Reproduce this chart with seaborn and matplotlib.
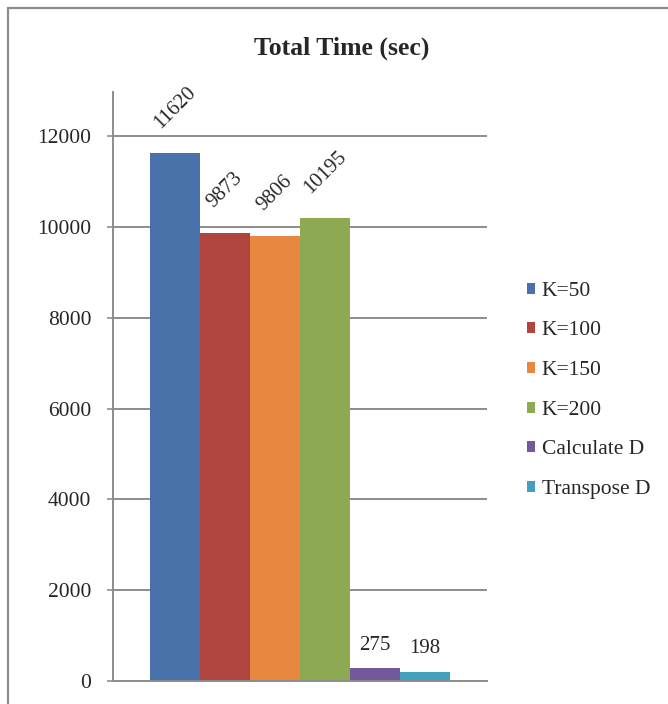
import matplotlib
matplotlib.use("Agg")
import matplotlib.pyplot as plt
from matplotlib.patches import Rectangle, Patch
import seaborn as sns
import pandas as pd

# Run-time totals for each configuration
series = ["K=50", "K=100", "K=150", "K=200", "Calculate D", "Transpose D"]
values = [11620, 9873, 9806, 10195, 275, 198]
colors = ["#4A72AA", "#B0453F", "#E8873F", "#8DAA52", "#72599E", "#40A0BE"]
y_ticks = [0, 2000, 4000, 6000, 8000, 10000, 12000]

df = pd.DataFrame({"group": ["Total"] * len(series), "series": series, "value": values})

sns.set_theme(style="white")
plt.rcParams["font.family"] = ["Liberation Serif", "DejaVu Serif"]

fig = plt.figure(figsize=(6.68, 7.04), dpi=100)
ax = fig.add_axes([0.1692, 0.0327, 0.5599, 0.8366])

sns.barplot(data=df, x="group", y="value", hue="series", hue_order=series,
            palette=colors, saturation=1, width=0.8, ax=ax, legend=False,
            edgecolor="none", linewidth=0)

ax.set_ylim(0, 12970)
ax.set_xlim(-0.5, 0.5)
ax.set_yticks(y_ticks)
ax.set_yticklabels([str(t) for t in y_ticks], fontsize=15.5)
ax.set_xticks([])
ax.set_xlabel("")
ax.set_ylabel("")

grid_color = "#8C8C8C"
for t in y_ticks[1:]:
    ax.axhline(t, color=grid_color, lw=1.4, zorder=0)
for s in ["top", "right"]:
    ax.spines[s].set_visible(False)
ax.spines["left"].set_color(grid_color)
ax.spines["left"].set_linewidth(1.4)
ax.spines["bottom"].set_color(grid_color)
ax.spines["bottom"].set_linewidth(1.4)
ax.tick_params(axis="y", direction="out", length=4.5, width=1.2, color=grid_color,
               pad=11, left=True)

# Value labels: the large bars get slanted labels, the small ones flat
for cont, v in zip(ax.containers, values):
    if v > 1000:
        ax.bar_label(cont, labels=[str(v)], rotation=45, padding=15, fontsize=15)
    else:
        ax.bar_label(cont, labels=[str(v)], padding=10, fontsize=15)

handles = [Patch(facecolor=c, edgecolor="none") for c in colors]
fig.legend(handles, series, loc="upper left", bbox_to_anchor=(0.7725, 0.615),
           frameon=False, fontsize=15.5, handlelength=0.4, handleheight=0.4,
           handletextpad=0.3, labelspacing=0.96, borderpad=0)

fig.text(0.512, 0.932, "Total Time (sec)", ha="center", va="center",
         fontsize=18.5, fontweight="bold")

# Outer chart frame
fig.patches.append(Rectangle((8 / 668, -0.2), 1.5, 1.2 - 8 / 704,
                             transform=fig.transFigure, fill=False,
                             edgecolor="#8C8C8C", lw=1.6))

fig.savefig("out.png", dpi=100, facecolor="white")
